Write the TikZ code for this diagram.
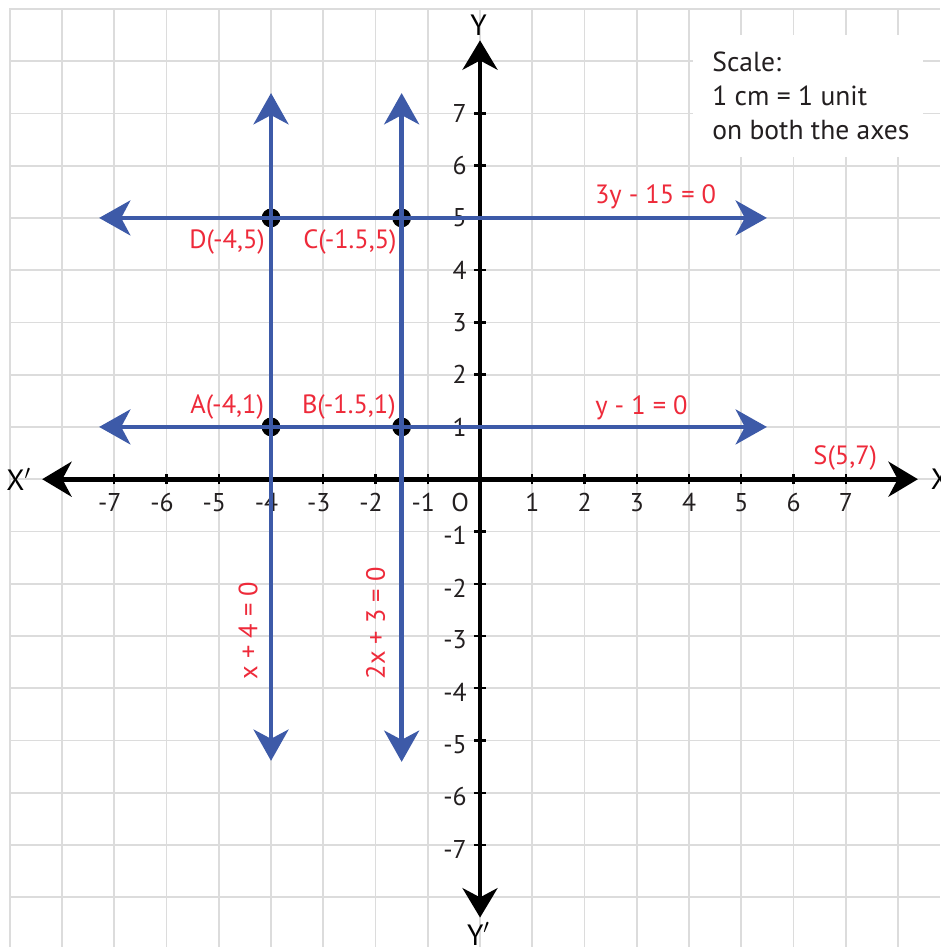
\documentclass[tikz,border=0pt]{standalone}
\usepackage{fontspec}
\setmainfont{PT Sans}
\usetikzlibrary{arrows.meta}
\definecolor{gridc}{HTML}{DCDCDC}
\definecolor{lblue}{HTML}{3D5AA8}
\definecolor{lred}{HTML}{EE2A3A}
\definecolor{ink}{HTML}{231F20}
\begin{document}
\begin{tikzpicture}[
  gridline/.style={draw=gridc,line width=1pt},
  axisline/.style={draw=black,line width=2.6pt,{Stealth[length=16pt,width=19pt,inset=5pt]}-{Stealth[length=16pt,width=19pt,inset=5pt]}},
  blueline/.style={draw=lblue,line width=2.5pt,{Stealth[length=17pt,width=19pt,inset=5pt]}-{Stealth[length=17pt,width=19pt,inset=5pt]}},
  tickmark/.style={draw=black,line width=1.3pt},
  ticklbl/.style={font=\fontsize{14}{16}\selectfont,text=ink,inner sep=0pt},
  redlbl/.style={font=\fontsize{14.4}{16}\selectfont,text=lred,inner sep=0pt},
  axlbl/.style={font=\fontsize{16}{18}\selectfont,text=black,inner sep=0pt},
  ptdot/.style={circle,fill=black,minimum size=0.36cm,inner sep=0pt},
]
\useasboundingbox (-9.187,-8.953) rectangle (8.804,9.171);
\fill[white] (-9.187,-8.953) rectangle (8.804,9.171);
% grid
\draw[gridline] (-9,-8.953) grid (8.804,9);
\draw[gridline] (-9,-8.953) -- (-9,9) -- (8.804,9);
% scale box
\fill[white] (4.08,6.17) rectangle (8.48,8.50);
\node[anchor=north west,align=left,font=\fontsize{15}{18.5}\selectfont,text=ink,inner sep=0pt] (scale) at (4.44,8.18)
  {Scale:\\1 cm = 1 unit\\on both the axes};
% axes
\coordinate (xl) at (-8.38,0);
\coordinate (xr) at (8.38,0);
\coordinate (yb) at (0,-8.39);
\coordinate (yt) at (0,8.40);
\foreach \i in {-7,...,-1,1,2,...,7} {
  \draw[tickmark] (\i,-0.1) -- (\i,0.1);
  \draw[tickmark] (-0.12,\i) -- (0.12,\i);
}
\foreach \i in {-7,...,-1} {
  \node[ticklbl] (xt\i) at (\i,-0.44) {\llap{-}\the\numexpr-\i\relax};
  \node[ticklbl,anchor=east] (yt\i) at (-0.25,\i-0.08) {-\the\numexpr-\i\relax};
}
\foreach \i in {1,...,7} {
  \node[ticklbl] (xt\i) at (\i,-0.44) {\i};
  \node[ticklbl,anchor=east] (yt\i) at (-0.25,\i) {\i};
}
\node[ticklbl] (orig) at (-0.38,-0.44) {O};
\draw[axisline] (xl) -- (xr);
\draw[axisline] (yb) -- (yt);
\node[axlbl] (Xp) at (-8.83,0) {X$'$};
\node[axlbl] (X) at (8.8,0) {X};
\node[axlbl] (Y) at (-0.03,8.69) {Y};
\node[axlbl] (Yp) at (-0.03,-8.70) {Y$'$};
% points (under the lines)
\node[ptdot] (A) at (-4,1) {};
\node[ptdot] (B) at (-1.5,1) {};
\node[ptdot] (C) at (-1.5,5) {};
\node[ptdot] (D) at (-4,5) {};
% blue lines
\coordinate (v1b) at (-4,-5.39);
\coordinate (v1t) at (-4,7.39);
\coordinate (v2b) at (-1.5,-5.41);
\coordinate (v2t) at (-1.5,7.39);
\coordinate (h1l) at (-7.29,1);
\coordinate (h1r) at (5.49,1);
\coordinate (h2l) at (-7.29,5);
\coordinate (h2r) at (5.49,5);
\draw[blueline] (v1b) -- (v1t);
\draw[blueline] (v2b) -- (v2t);
\draw[blueline] (h1l) -- (h1r);
\draw[blueline] (h2l) -- (h2r);
% labels
\node[redlbl] (Al) at (-4.84,1.39) {A(-4,1)};
\node[redlbl] (Bl) at (-2.51,1.39) {B(-1.5,1)};
\node[redlbl] (Cl) at (-2.49,4.53) {C(-1.5,5)};
\node[redlbl] (Dl) at (-4.84,4.53) {D(-4,5)};
\node[redlbl] (Sl) at (6.99,0.41) {S(5,7)};
\node[redlbl] (e1) at (3.36,5.41) {3y - 15 = 0};
\node[redlbl] (e2) at (3.09,1.37) {y - 1 = 0};
\node[redlbl,rotate=90] (e3) at (-4.44,-2.9) {x + 4 = 0};
\node[redlbl,rotate=90] (e4) at (-2.0,-2.76) {2x + 3 = 0};
\end{tikzpicture}
\end{document}
